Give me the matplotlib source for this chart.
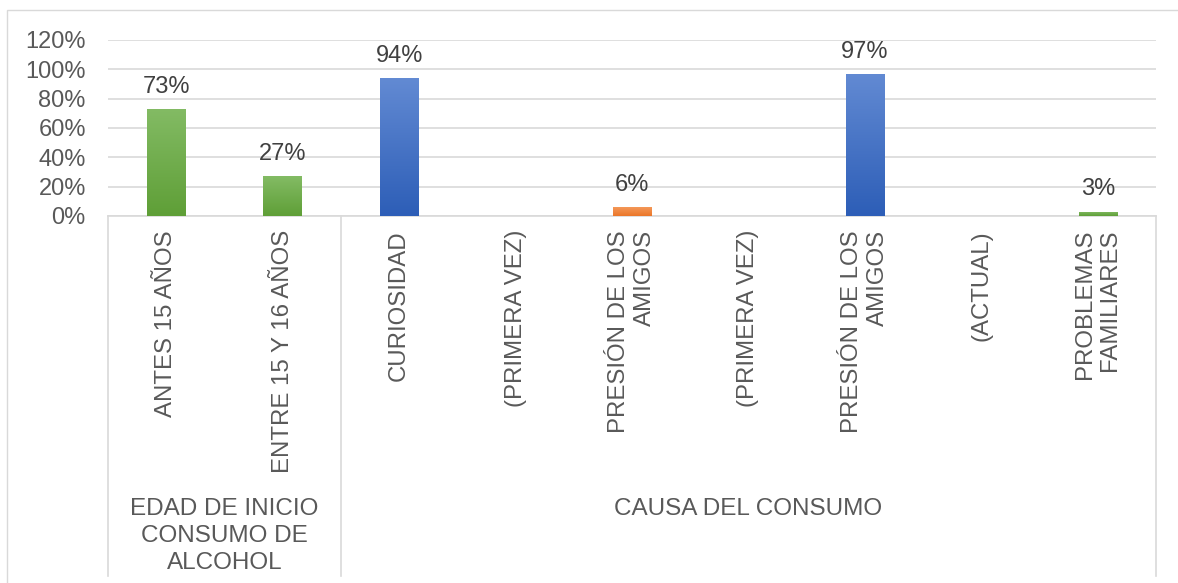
import numpy as np
import matplotlib.pyplot as plt
import matplotlib.transforms as mtransforms
from matplotlib.colors import LinearSegmentedColormap
from matplotlib.patches import Rectangle
from matplotlib.ticker import PercentFormatter

categorias = ["ANTES 15 AÑOS", "ENTRE 15 Y 16 AÑOS", "CURIOSIDAD", "(PRIMERA VEZ)",
              "PRESIÓN DE LOS\nAMIGOS", "(PRIMERA VEZ)", "PRESIÓN DE LOS\nAMIGOS",
              "(ACTUAL)", "PROBLEMAS\nFAMILIARES"]
valores = [0.73, 0.27, 0.94, 0.0, 0.06, 0.0, 0.97, 0.0, 0.03]
serie = ["verde", "verde", "azul", "azul", "naranja", "naranja", "azul", "verde", "verde"]

grupos = ["EDAD DE INICIO\nCONSUMO DE\nALCOHOL", "CAUSA DEL CONSUMO"]
grupo_inicio = [0, 2]
grupo_fin = [1, 8]

# degradados tipo Excel (arriba -> abajo)
degradados = {
    "verde": ("#83bb64", "#5f9f37"),
    "azul": ("#628ad3", "#2d5eb7"),
    "naranja": ("#f49858", "#eb7629"),
}

gris_texto = "#595959"
gris_linea = "#d9d9d9"

plt.rcParams['font.family'] = ['Liberation Sans', 'DejaVu Sans']
plt.rcParams['font.size'] = 17

fig = plt.figure(figsize=(11.78, 5.83), dpi=100)
ax = fig.add_axes([108 / 1178, 1 - 216 / 583, 1048 / 1178, 176 / 583])

x = np.arange(len(categorias))
barras = ax.bar(x, valores, width=0.33, color="none", zorder=3)

for b, v, s in zip(barras, valores, serie):
    if v <= 0:
        continue
    arriba, abajo = degradados[s]
    cmap = LinearSegmentedColormap.from_list(s, [abajo, arriba])
    grad = np.linspace(0, 1, 100).reshape(-1, 1)
    img = ax.imshow(grad, cmap=cmap, origin="lower", aspect="auto",
                    extent=(b.get_x(), b.get_x() + b.get_width(), 0, v), zorder=3)
    img.set_clip_path(b)
    ax.annotate(f"{round(v * 100)}%", (b.get_x() + b.get_width() / 2, v),
                xytext=(0, 8), textcoords="offset points",
                ha="center", va="bottom", color="#404040", fontsize=17)

ax.set_xlim(-0.5, len(categorias) - 0.5)
ax.set_ylim(0, 1.2)
ax.set_yticks(np.arange(0, 1.21, 0.2))
ax.yaxis.set_major_formatter(PercentFormatter(1.0, decimals=0))
ax.grid(axis="y", color=gris_linea, lw=1.2, zorder=0)
ax.set_axisbelow(True)

for lado in ["top", "right", "left"]:
    ax.spines[lado].set_visible(False)
ax.spines["bottom"].set_color(gris_linea)
ax.spines["bottom"].set_linewidth(1.2)

ax.set_xticks(x)
ax.set_xticklabels(categorias, rotation=90, va="top", ha="center",
                   multialignment="right", fontsize=17.3, linespacing=1.2)
ax.tick_params(axis="x", length=0, pad=10, colors=gris_texto)
ax.tick_params(axis="y", length=0, pad=16, colors=gris_texto)

# separadores de grupos bajo el eje
trans = mtransforms.blended_transform_factory(ax.transData, ax.transAxes)
limites = sorted(set([i - 0.5 for i in grupo_inicio] + [f + 0.5 for f in grupo_fin]))
for lim in limites:
    ax.plot([lim, lim], [0, -2.045], transform=trans, color=gris_linea,
            lw=1.2, clip_on=False)

for nombre, ini, fin in zip(grupos, grupo_inicio, grupo_fin):
    ax.text((ini + fin) / 2, -1.6, nombre, transform=trans, ha="center",
            va="top", color=gris_texto, linespacing=1.3, fontsize=17.5)

# marco del grafico
fig.add_artist(Rectangle((7 / 1178, -0.1), 1.2, 1.1 - 10 / 583,
                         transform=fig.transFigure, fill=False,
                         edgecolor=gris_linea, lw=1))

fig.savefig("out.png", dpi=100)
